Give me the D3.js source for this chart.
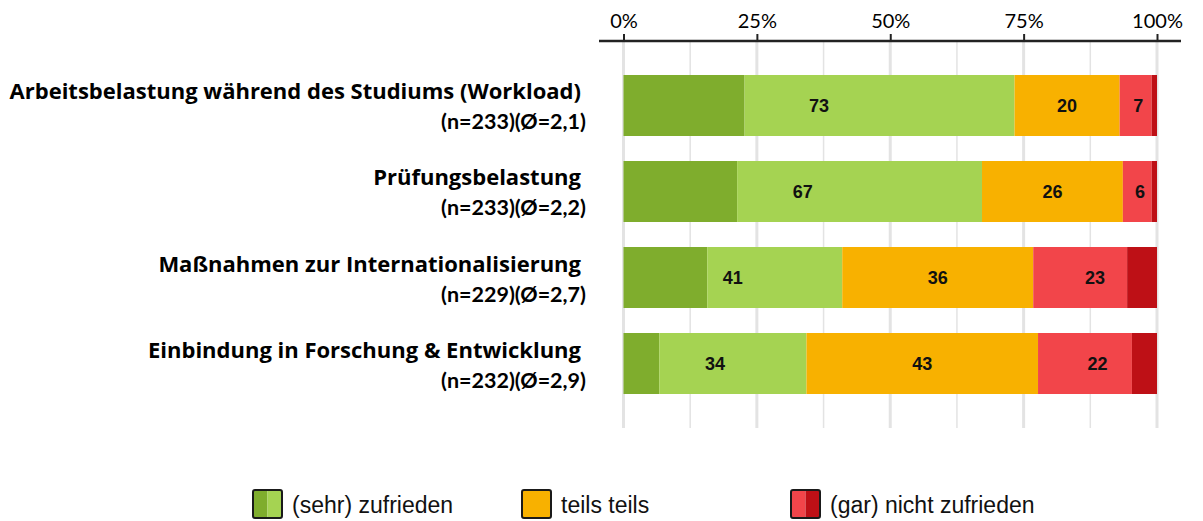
<!DOCTYPE html>
<html>
<head>
<meta charset="utf-8">
<script src="https://cdn.jsdelivr.net/npm/d3@7"></script>
<style>
  body { margin: 0; background: #fff; }
  svg { display: block; }
</style>
</head>
<body>
<div id="chart"></div>
<script>
// categories + values (percent)
const categories = [
    "Arbeitsbelastung während des Studiums (Workload)",
    "Prüfungsbelastung",
    "Maßnahmen zur Internationalisierung",
    "Einbindung in Forschung & Entwicklung"
];
const subLabels = ["(n=233)(Ø=2,1)", "(n=233)(Ø=2,2)", "(n=229)(Ø=2,7)", "(n=232)(Ø=2,9)"];

const sehrZufrieden = [22.7, 21.3, 15.7, 6.7];
const zufrieden = [50.6, 45.9, 25.3, 27.6];
const teilsTeils = [19.7, 26.4, 35.8, 43.4];
const nichtZufrieden = [6.0, 5.4, 17.6, 17.6];
const garNichtZufrieden = [1.0, 1.0, 5.6, 4.7];

// printed labels
const labelPositiv = [73, 67, 41, 34];
const labelTeils = [20, 26, 36, 43];
const labelNegativ = [7, 6, 23, 22];

const tickValues = [0, 25, 50, 75, 100];
const minorTicks = [12.5, 37.5, 62.5, 87.5];

const colors = {
    sehr: '#7fad2d',
    zuf: '#a5d352',
    teils: '#f8b100',
    nicht: '#f2454a',
    gar: '#be1016'
};

const width = 1203;
const height = 521;

const svg = d3.select('#chart')
    .append('svg')
    .attr('width', width)
    .attr('height', height);

const x = d3.scaleLinear().domain([0, 100]).range([623.5, 1157]);
const y = d3.scaleBand()
    .domain(categories)
    .range([62.5, 406.5])
    .paddingInner(0.2907)
    .paddingOuter(0.1453);

const axisY = 41;

// gridlines
svg.append('g')
    .selectAll('line')
    .data(minorTicks)
    .join('line')
    .attr('x1', d => x(d)).attr('x2', d => x(d))
    .attr('y1', axisY).attr('y2', 428)
    .attr('stroke', '#e3e3e3')
    .attr('stroke-width', 1.5);
svg.append('g')
    .selectAll('line')
    .data(tickValues)
    .join('line')
    .attr('x1', d => x(d)).attr('x2', d => x(d))
    .attr('y1', axisY).attr('y2', 428)
    .attr('stroke', '#e3e3e3')
    .attr('stroke-width', 3);

// build stacked rows
const keys = ['sehr', 'zuf', 'teils', 'nicht', 'gar'];
const rows = categories.map((c, i) => ({
    cat: c,
    sehr: sehrZufrieden[i],
    zuf: zufrieden[i],
    teils: teilsTeils[i],
    nicht: nichtZufrieden[i],
    gar: garNichtZufrieden[i]
}));
const stacked = d3.stack().keys(keys)(rows);

svg.append('g')
    .selectAll('g')
    .data(stacked)
    .join('g')
    .attr('fill', d => colors[d.key])
    .selectAll('rect')
    .data(d => d)
    .join('rect')
    .attr('x', d => x(d[0]))
    .attr('width', d => x(d[1]) - x(d[0]))
    .attr('y', d => y(d.data.cat))
    .attr('height', y.bandwidth());

// value labels (centered on the grouped segments)
const labelData = [];
rows.forEach((r, i) => {
    const pos = r.sehr + r.zuf;
    const mid = pos + r.teils;
    labelData.push({ cat: r.cat, v: labelPositiv[i], c: pos / 2 });
    labelData.push({ cat: r.cat, v: labelTeils[i], c: (pos + mid) / 2 });
    labelData.push({ cat: r.cat, v: labelNegativ[i], c: (mid + 100) / 2 });
});
svg.append('g')
    .selectAll('text')
    .data(labelData)
    .join('text')
    .attr('x', d => x(d.c))
    .attr('y', d => y(d.cat) + y.bandwidth() / 2)
    .attr('dy', '0.36em')
    .attr('text-anchor', 'middle')
    .style('font-family', '"Liberation Sans", Arial, sans-serif')
    .style('font-weight', 'bold')
    .style('font-size', '18px')
    .attr('fill', '#111')
    .text(d => d.v);

// category labels
const catG = svg.append('g')
    .style('font-weight', 'bold')
    .attr('fill', '#000');
catG.selectAll('text.l1')
    .data(categories)
    .join('text')
    .attr('class', 'l1')
    .attr('x', 581)
    .attr('y', d => y(d) + y.bandwidth() / 2 - 6)
    .attr('text-anchor', 'end')
    .style('font-family', '"Open Sans", sans-serif')
    .style('font-size', '22px')
    .text(d => d);
catG.selectAll('text.l2')
    .data(subLabels)
    .join('text')
    .attr('class', 'l2')
    .attr('x', 586)
    .attr('y', (d, i) => y(categories[i]) + y.bandwidth() / 2 + 24)
    .attr('text-anchor', 'end')
    .style('font-family', 'Lato, "Open Sans", sans-serif')
    .style('font-size', '21.5px')
    .text(d => d);

// top axis
const axis = svg.append('g')
    .attr('transform', `translate(0, ${axisY})`)
    .call(d3.axisTop(x)
        .tickValues(tickValues)
        .tickFormat(d => d + '%')
        .tickSize(7)
        .tickPadding(6));
axis.select('.domain').remove();
axis.selectAll('.tick line').attr('stroke', '#222').attr('stroke-width', 2);
axis.selectAll('.tick text')
    .style('font-family', 'Lato, "Open Sans", sans-serif')
    .style('font-size', '20px')
    .attr('fill', '#000');
svg.append('line')
    .attr('x1', 599).attr('x2', 1181)
    .attr('y1', axisY).attr('y2', axisY)
    .attr('stroke', '#222')
    .attr('stroke-width', 2.5);

// legend
const legendItems = [
    { label: '(sehr) zufrieden', x: 253, fills: [colors.sehr, colors.zuf] },
    { label: 'teils teils', x: 522, fills: [colors.teils] },
    { label: '(gar) nicht zufrieden', x: 791, fills: [colors.nicht, colors.gar] }
];
const lg = svg.append('g');
legendItems.forEach(item => {
    const g = lg.append('g').attr('transform', `translate(${item.x}, 490)`);
    const w = 29 / item.fills.length;
    item.fills.forEach((f, j) => {
        g.append('rect')
            .attr('x', j * w).attr('y', 0)
            .attr('width', w).attr('height', 28)
            .attr('fill', f);
    });
    g.append('rect')
        .attr('width', 29).attr('height', 28)
        .attr('rx', 2)
        .attr('fill', 'none')
        .attr('stroke', '#1a1a1a')
        .attr('stroke-width', 2);
    g.append('text')
        .attr('x', 39)
        .attr('y', 23)
        .style('font-family', '"Liberation Sans", Arial, sans-serif')
        .style('font-size', '23px')
        .attr('fill', '#111')
        .text(item.label);
});
</script>
</body>
</html>
